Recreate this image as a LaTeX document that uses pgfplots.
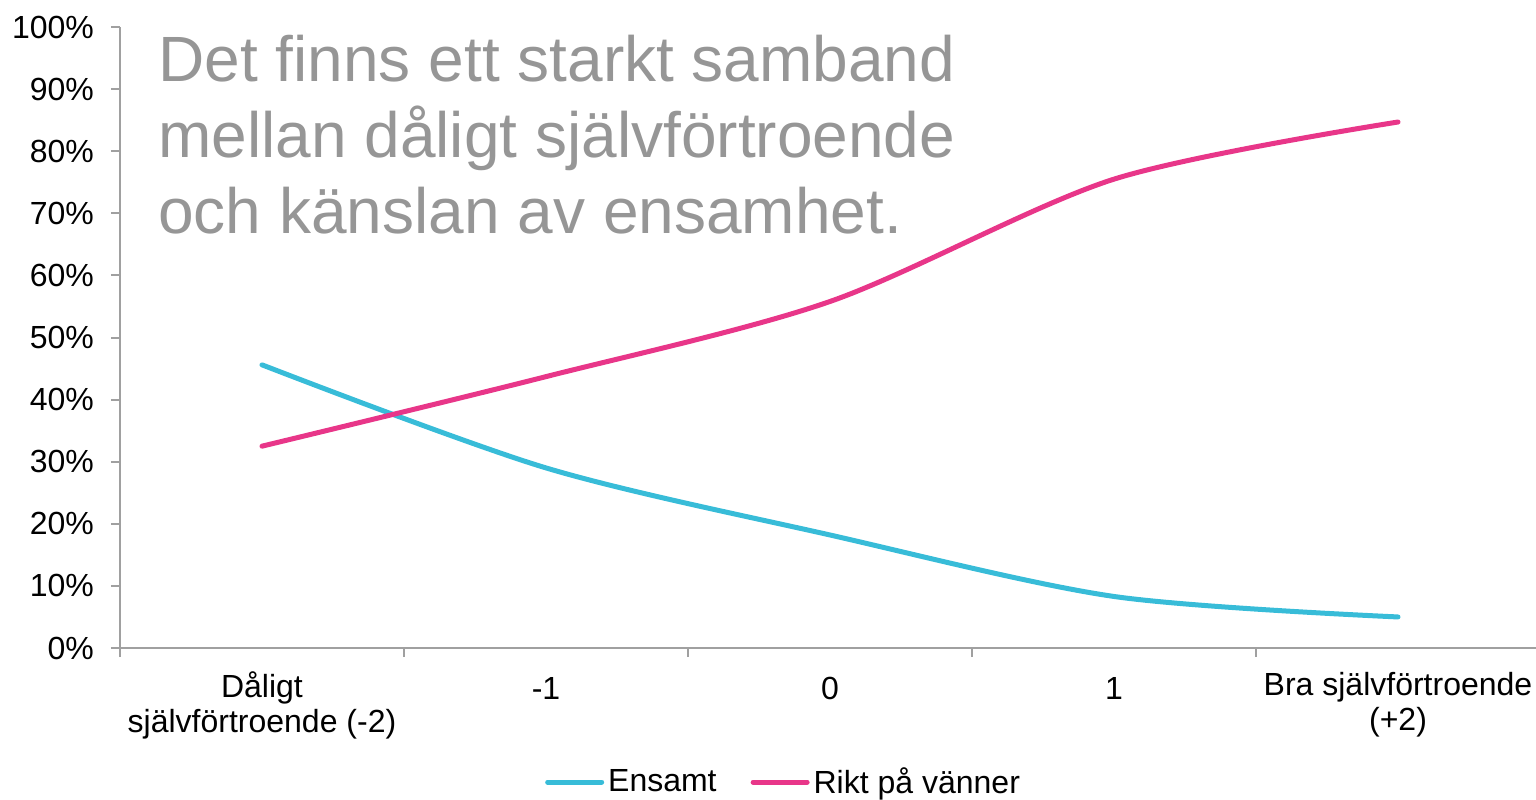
\documentclass[border=0pt]{standalone}
\usepackage{fontspec}
\setmainfont{Liberation Sans}
\usepackage{pgfplots}
\pgfplotsset{compat=1.18}

\definecolor{ensamt}{RGB}{56,188,216}
\definecolor{vanner}{RGB}{232,54,137}
\definecolor{axisgray}{RGB}{160,160,160}
\definecolor{titlegray}{RGB}{150,150,150}

\begin{document}
\begin{tikzpicture}
  \useasboundingbox (-60pt,-75.5pt) rectangle (708pt,324pt);
  \begin{axis}[
      at={(0,0)}, anchor=south west,
      scale only axis, width=710pt, height=310.5pt,
      xmin=-0.5, xmax=4.5, ymin=0, ymax=100,
      axis x line*=bottom, axis y line*=left,
      axis line style={draw=axisgray, line width=1pt, -},
      tick align=outside, major tick length=4.5pt,
      tick style={draw=axisgray, line width=1pt},
      ytick={0,10,...,100},
      yticklabel={\pgfmathprintnumber[assume math mode=true]{\tick}\%},
      xtick={0,...,4},
      xticklabels={{Dåligt\\självförtroende (-2)},{\vphantom{Å}-1},{\vphantom{Å}0},{\vphantom{Å}1},{Bra självförtroende\\(+2)}},
      major x tick style={draw=none},
      extra x ticks={-0.5,0.5,1.5,2.5,3.5,4.5},
      extra x tick labels={},
      extra x tick style={major x tick style={draw=axisgray, line width=1pt}},
      xticklabel style={align=center, font=\fontsize{16}{17.5}\selectfont, yshift=-4pt},
      yticklabel style={font=\fontsize{16}{17.5}\selectfont, xshift=-5pt},
      legend style={at={(0.468,0)}, anchor=center, yshift=-67pt, draw=none,
        font=\fontsize{16}{17.5}\selectfont, legend columns=-1,
        /tikz/every even column/.append style={column sep=15pt},
        /tikz/every odd column/.append style={column sep=0pt}},
      legend image code/.code={\draw[#1, line width=2.5pt, line cap=round] (0pt,0pt) -- (27pt,0pt);},
      clip=false,
    ]
    \addplot[ensamt, line width=2.5pt, line cap=round, smooth, tension=0.5]
      coordinates {(0,45.6)(1,29.0)(2,18.2)(3,8.3)(4,5.0)};
    \addlegendentry{Ensamt}
    \addplot[vanner, line width=2.5pt, line cap=round, smooth, tension=0.5]
      coordinates {(0,32.5)(1,43.7)(2,55.8)(3,75.5)(4,84.7)};
    \addlegendentry{Rikt på vänner}
    \node[anchor=north west, align=left, inner sep=0pt, text=titlegray,
          font=\fontsize{32}{38}\selectfont]
      at ([xshift=19pt, yshift=-4pt]rel axis cs:0,1)
      {Det finns ett starkt samband\\mellan dåligt självförtroende\\och känslan av ensamhet.};
  \end{axis}
\end{tikzpicture}
\end{document}
